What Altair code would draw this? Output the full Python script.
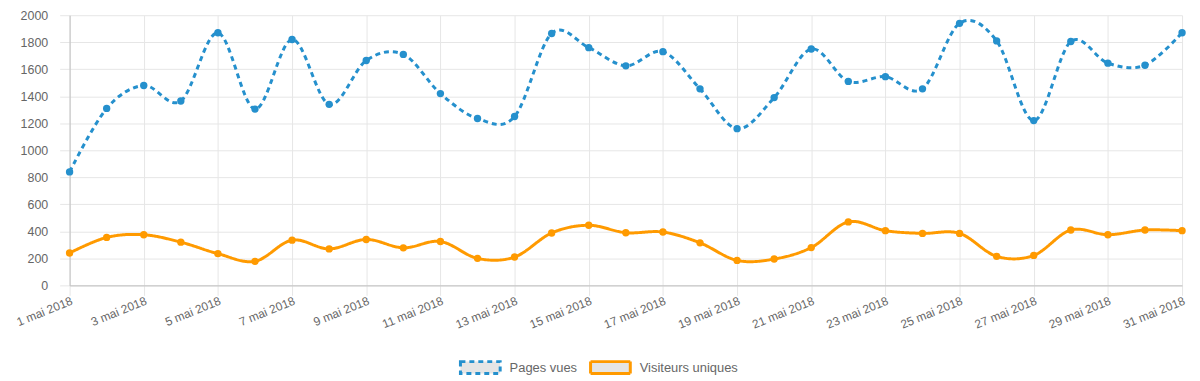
import altair as alt
import pandas as pd

jours = list(range(1, 32))
pages_vues = [840, 1310, 1480, 1365, 1870, 1305, 1820, 1340, 1665, 1710,
              1420, 1235, 1250, 1865, 1760, 1625, 1730, 1455, 1160, 1390,
              1750, 1510, 1545, 1455, 1940, 1810, 1220, 1805, 1645, 1630, 1870]
visiteurs = [240, 355, 375, 320, 235, 178, 335, 270, 340, 278,
             325, 200, 210, 388, 445, 390, 395, 315, 185, 195,
             280, 470, 405, 385, 385, 215, 222, 410, 375, 410, 405]
series = ["Pages vues", "Visiteurs uniques"]
couleurs = ["#2590cd", "#ff9a00"]
tirets = [[5, 4], [1, 0]]
tick_jours = list(range(1, 32, 2))
y_ticks = list(range(0, 2001, 200))

rows = []
for j, p, v in zip(jours, pages_vues, visiteurs):
    rows.append({"jour": j, "valeur": p, "serie": series[0]})
    rows.append({"jour": j, "valeur": v, "serie": series[1]})
df = pd.DataFrame(rows)

FONT = "Liberation Sans"
GRID = "#e6e6e6"
ZERO = "#bfbfbf"

x = alt.X("jour:Q",
          scale=alt.Scale(domain=[1, 31], nice=False, zero=False),
          axis=alt.Axis(values=tick_jours, title=None,
                        labelExpr="datum.value + ' mai 2018'",
                        labelAngle=-22, labelAlign="right", labelBaseline="top",
                        labelPadding=0, tickSize=10, tickColor=GRID,
                        gridColor=GRID, domainColor=ZERO,
                        labelColor="#666666", labelFont=FONT, labelFontSize=12,
                        labelOverlap=False, labelFlush=False))
y = alt.Y("valeur:Q",
          scale=alt.Scale(domain=[0, 2000], nice=False),
          axis=alt.Axis(values=y_ticks, title=None, format="d",
                        tickSize=10, tickColor=GRID, labelPadding=12,
                        gridColor=GRID, domainColor=ZERO,
                        labelColor="#666666", labelFont=FONT, labelFontSize=12.5))

color = alt.Color("serie:N", scale=alt.Scale(domain=series, range=couleurs),
                  legend=alt.Legend(title=None, orient="none", direction="horizontal",
                                    legendX=392, legendY=333,
                                    symbolType="M-1,-0.3H1V0.3H-1Z", symbolSize=1600,
                                    symbolStrokeWidth=3, symbolFillColor="#e5e5e5",
                                    labelFont=FONT, labelFontSize=13, labelColor="#666666",
                                    labelOffset=8, columnPadding=7))
dash = alt.StrokeDash("serie:N", scale=alt.Scale(domain=series, range=tirets), legend=None)

lines = alt.Chart(df).mark_line(interpolate="cardinal", strokeWidth=3).encode(
    x=x, y=y, color=color, strokeDash=dash)
points = alt.Chart(df).transform_calculate(
    couleur=f"datum.serie == '{series[0]}' ? '{couleurs[0]}' : '{couleurs[1]}'"
).mark_circle(size=55, opacity=1).encode(
    x=x, y=y, color=alt.Color("couleur:N", scale=None))

chart = alt.layer(lines, points).properties(
    width=1120, height=272,
    autosize=alt.AutoSizeParams(type="none"),
    padding={"left": 62, "top": 6, "right": 10, "bottom": 95},
).configure_view(stroke=None).configure_legend(symbolBaseFillColor="#e5e5e5")

chart.save("out.html", embed_options={"renderer": "svg", "actions": False})
